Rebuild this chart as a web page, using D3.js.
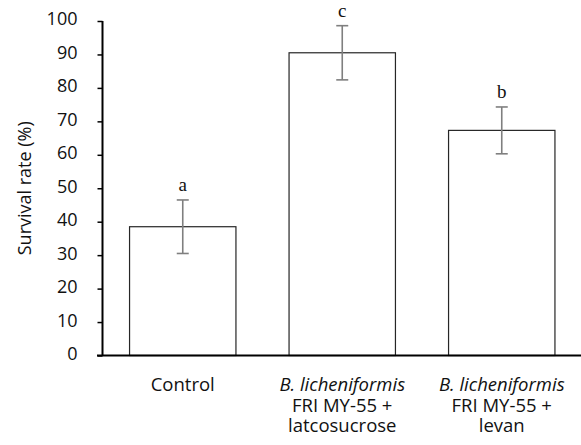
<!DOCTYPE html>
<html><head><meta charset="utf-8">
<script src="https://cdn.jsdelivr.net/npm/d3@7"></script>
<style>body{margin:0;background:#fff}svg{display:block}</style>
</head><body><svg id="c" width="581" height="445"></svg>
<script>
const categories = [["Control"], ["B. licheniformis", "FRI MY-55 +", "latcosucrose"], ["B. licheniformis", "FRI MY-55 +", "levan"]];
const values = [38.5, 90.5, 67.3];
const errors = [8.0, 8.1, 7.0];
const sigLetters = ["a", "c", "b"];
const yTicks = [0, 10, 20, 30, 40, 50, 60, 70, 80, 90, 100];

const svg = d3.select("#c");
const font = "'Open Sans', 'Noto Sans', sans-serif";
const x = d3.scaleBand().domain(d3.range(categories.length)).range([103, 581.5]).paddingInner(0.333).paddingOuter(0.1665);
const y = d3.scaleLinear().domain([0, 100]).range([355.5, 21]);

// bars
svg.selectAll("rect.bar").data(values).enter().append("rect")
  .attr("x", (d, i) => x(i)).attr("width", x.bandwidth())
  .attr("y", d => y(d)).attr("height", d => y(0) - y(d))
  .attr("fill", "#fff").attr("stroke", "#262626").attr("stroke-width", 1.2);

// error bars
const eg = svg.append("g").attr("stroke", "#7f7f7f").attr("stroke-width", 1.6);
values.forEach((v, i) => {
  const cx = x(i) + x.bandwidth() / 2;
  eg.append("line").attr("x1", cx).attr("x2", cx).attr("y1", y(v + errors[i])).attr("y2", y(v - errors[i]));
  [v + errors[i], v - errors[i]].forEach(e => eg.append("line").attr("x1", cx - 6).attr("x2", cx + 6).attr("y1", y(e)).attr("y2", y(e)));
});

// letters
svg.selectAll("text.sig").data(sigLetters).enter().append("text")
  .attr("x", (d, i) => x(i) + x.bandwidth() / 2)
  .attr("y", (d, i) => y(values[i] + errors[i]) - 9)
  .attr("text-anchor", "middle").attr("font-family", "'Liberation Serif', 'DejaVu Serif', serif")
  .attr("font-size", 19).attr("fill", "#111").text(d => d);

// y axis
const yAxis = svg.append("g").attr("transform", "translate(102.5,0)")
  .call(d3.axisLeft(y).tickValues(yTicks).tickSize(5).tickPadding(20));
yAxis.select(".domain").attr("stroke", "#000").attr("stroke-width", 2).attr("d", `M0,${y(100)}V${y(0)}`);
yAxis.selectAll(".tick line").attr("stroke", "#000").attr("stroke-width", 1.5);
yAxis.selectAll(".tick text").attr("font-family", font).attr("font-size", 18).attr("fill", "#111").attr("dy", "0.22em");

// x axis line
svg.append("line").attr("x1", 97).attr("x2", 581).attr("y1", y(0)).attr("y2", y(0))
  .attr("stroke", "#000").attr("stroke-width", 2);

// category labels
categories.forEach((lines, i) => {
  const t = svg.append("text").attr("text-anchor", "middle").attr("font-family", font)
    .attr("font-size", 18.5).attr("fill", "#111");
  lines.forEach((l, j) => {
    t.append("tspan").attr("x", x(i) + x.bandwidth() / 2).attr("y", 391 + j * 20.5)
      .attr("font-style", l.startsWith("B.") ? "italic" : "normal").text(l);
  });
});

// y title
svg.append("text").attr("transform", `translate(31,${(y(0) + y(100)) / 2}) rotate(-90)`)
  .attr("text-anchor", "middle").attr("font-family", font).attr("font-size", 18)
  .attr("fill", "#111").text("Survival rate (%)");
</script></body></html>
